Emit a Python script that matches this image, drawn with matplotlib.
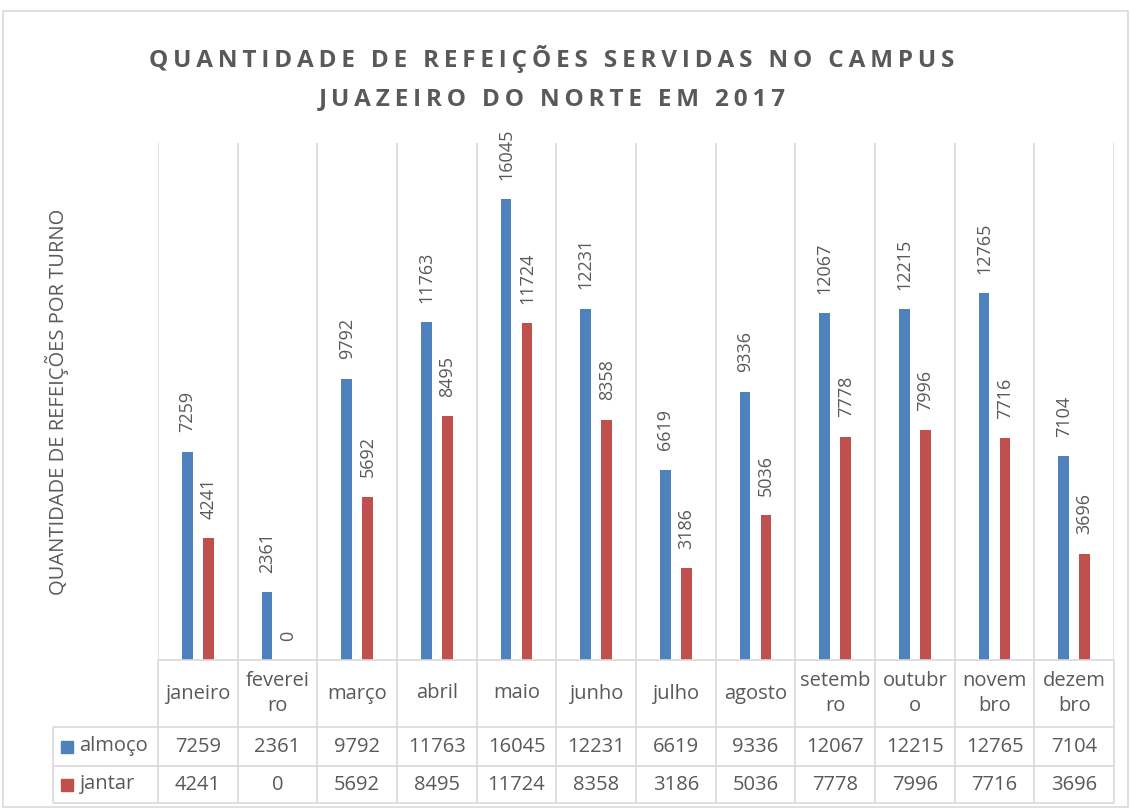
import numpy as np
import matplotlib
matplotlib.use('Agg')
import matplotlib.pyplot as plt
from matplotlib.patches import Rectangle

plt.rcParams['font.family'] = ['Open Sans', 'DejaVu Sans']

# dados
meses = ['janeiro', 'feverei\nro', 'março', 'abril', 'maio', 'junho', 'julho',
         'agosto', 'setemb\nro', 'outubr\no', 'novem\nbro', 'dezem\nbro']
almoco = [7259, 2361, 9792, 11763, 16045, 12231, 6619, 9336, 12067, 12215, 12765, 7104]
jantar = [4241, 0, 5692, 8495, 11724, 8358, 3186, 5036, 7778, 7996, 7716, 3696]
series_nomes = ['almoço', 'jantar']
titulo = ['QUANTIDADE DE REFEIÇÕES SERVIDAS NO CAMPUS', 'JUAZEIRO DO NORTE EM 2017']
ylabel = 'QUANTIDADE DE REFEIÇÕES POR TURNO'

azul = '#4F81BD'
vermelho = '#C0504D'
cinza_txt = '#595959'
cinza_lin = '#D9D9D9'

W, H = 1130, 808
fig = plt.figure(figsize=(W / 100, H / 100), dpi=100, facecolor='w')

# borda do grafico
fig.patches.append(Rectangle((3 / W, 1 / H), 1125 / W, (H - 12) / H,
                             transform=fig.transFigure, fill=False,
                             edgecolor=cinza_lin, linewidth=1.2))

# area de plotagem (pixels medidos na referencia)
x0, x1 = 158, 1114
y_top, y_base, y_tab = 143, 660, 803
ax = fig.add_axes([x0 / W, (H - y_base) / H, (x1 - x0) / W, (y_base - y_top) / H])
n = len(meses)
x = np.arange(n)
ax.set_xlim(-0.5, n - 0.5)
ax.set_ylim(0, 18000)
for s in ax.spines.values():
    s.set_visible(False)
ax.set_xticks([])
ax.set_yticks([])
ax.vlines(np.arange(n + 1) - 0.5, 0, 18000, color=cinza_lin, linewidth=1.2)

larg = 0.135
off = 0.132
b1 = ax.bar(x - off, almoco, larg, color=azul)
b2 = ax.bar(x + off, jantar, larg, color=vermelho)
for bars, vals in ((b1, almoco), (b2, jantar)):
    for b, v in zip(bars, vals):
        ax.annotate(str(v), (b.get_x() + b.get_width() / 2, v),
                    xytext=(0, 14), textcoords='offset points',
                    rotation=90, ha='center', va='bottom',
                    fontsize=13, color=cinza_txt)

# titulo com espacamento entre letras e rotulo do eixo y
for k, linha in enumerate(titulo):
    fig.text(552 / W, 1 - (59 + 40 * k) / H, '\u2009'.join(linha),
             ha='center', va='center', fontsize=17.5, fontweight='bold',
             color=cinza_txt)
fig.text(57 / W, 1 - 402 / H, ylabel, rotation=90, ha='center', va='center',
         fontsize=14.5, color=cinza_txt)

# tabela de dados
tab = fig.add_axes([x0 / W, (H - y_tab) / H, (x1 - x0) / W, (y_tab - y_base) / H],
                   sharex=ax)
tab.set_ylim(y_tab - y_base, 0)
tab.axis('off')
linhas = [0, 67, 106, 143]
esq = -0.5 - (x0 - 53) / ((x1 - x0) / n)
tab.hlines(linhas[0], -0.5, n - 0.5, color=cinza_lin, linewidth=1.2, clip_on=False)
tab.hlines(linhas[1:], esq, n - 0.5, color=cinza_lin, linewidth=1.2, clip_on=False)
tab.vlines(np.arange(n + 1) - 0.5, linhas[0], linhas[-1], color=cinza_lin,
           linewidth=1.2, clip_on=False)
tab.vlines(esq, linhas[1], linhas[-1], color=cinza_lin, linewidth=1.2, clip_on=False)

for i, m in enumerate(meses):
    tab.text(i, (linhas[0] + linhas[1]) / 2, m, ha='center', va='center',
             fontsize=14.5, color=cinza_txt, linespacing=1.3)

for r, (nome, vals, cor) in enumerate(zip(series_nomes, (almoco, jantar), (azul, vermelho))):
    yc = (linhas[r + 1] + linhas[r + 2]) / 2
    for i, v in enumerate(vals):
        tab.text(i, yc, str(v), ha='center', va='center', fontsize=14.5, color=cinza_txt)
    tab.add_patch(Rectangle((esq + 0.1, yc - 6), 0.15, 12, color=cor, clip_on=False))
    tab.text(esq + 0.33, yc, nome, ha='left', va='center', fontsize=14.5,
             color=cinza_txt, clip_on=False)

plt.savefig('out.png', dpi=100)
plt.close(fig)
